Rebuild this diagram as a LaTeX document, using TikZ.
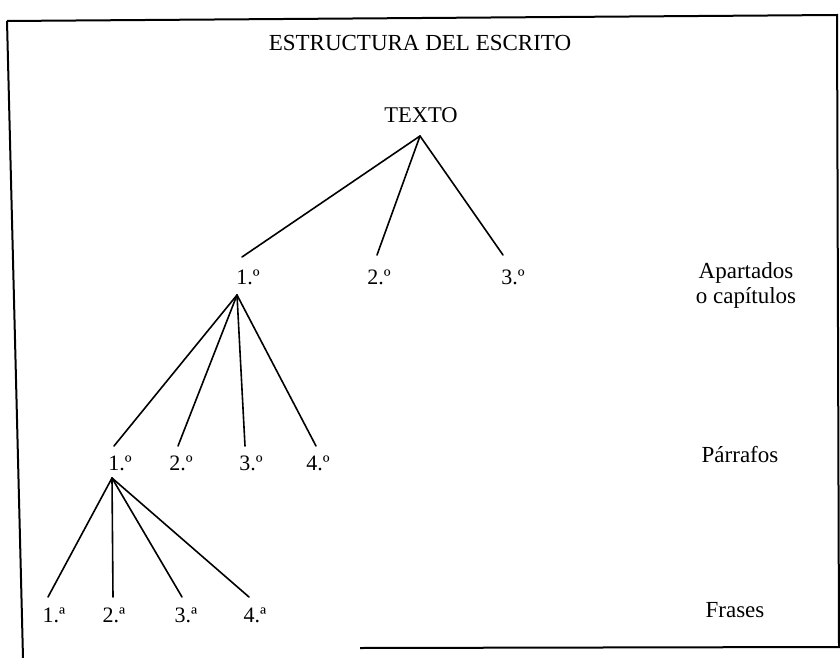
\documentclass[tikz,border=0pt]{standalone}
\usepackage{fontspec}
\setmainfont{Liberation Serif}
\begin{document}
\begin{tikzpicture}[x=1pt,y=-1pt,
  lbl/.style={inner sep=0pt, font=\fontsize{22}{24}\selectfont},
  side/.style={inner sep=0pt, font=\fontsize{23}{25}\selectfont, align=center},
  head/.style={inner sep=0pt, font=\fontsize{23}{25}\selectfont},
  edge/.style={line width=1.6pt, line cap=round},
  frame/.style={line width=2pt}]
\useasboundingbox (0,0) rectangle (840,658);
% frame
\draw[frame] (7,21) -- (837,15) -- (839,647) -- (360,648);
\draw[frame] (7,21) -- (23,658);
% title and root
\node[head] (title) at (420,43) {ESTRUCTURA DEL ESCRITO};
\node[head, font=\fontsize{22.5}{24}\selectfont] (texto) at (421,115) {TEXTO};
% level 1
\node[lbl] (a1) at (248,277) {1.º};
\node[lbl] (a2) at (379,277) {2.º};
\node[lbl] (a3) at (513,277) {3.º};
% level 2
\node[lbl] (p1) at (120,463) {1.º};
\node[lbl] (p2) at (181,463) {2.º};
\node[lbl] (p3) at (251,463) {3.º};
\node[lbl] (p4) at (318,463) {4.º};
% level 3
\node[lbl] (f1) at (54,615) {1.ª};
\node[lbl] (f2) at (114,615) {2.ª};
\node[lbl] (f3) at (186,615) {3.ª};
\node[lbl] (f4) at (255,615) {4.ª};
% side labels
\node[side] (apart) at (746,285) {Apartados\\o capítulos};
\node[side] (parr) at (740,455) {Párrafos};
\node[side] (fras) at (735,610) {Frases};
% connector end points
\coordinate (tB) at (420,136);
\coordinate (a1T) at (242,257);
\coordinate (a2T) at (377,255);
\coordinate (a3T) at (503,255);
\coordinate (a1B) at (237,295);
\coordinate (p1T) at (114,446);
\coordinate (p2T) at (178,446);
\coordinate (p3T) at (245,446);
\coordinate (p4T) at (316,446);
\coordinate (p1B) at (112,478);
\coordinate (f1T) at (48,597);
\coordinate (f2T) at (113,597);
\coordinate (f3T) at (182,597);
\coordinate (f4T) at (249,597);
% connectors
\foreach \c in {a1T,a2T,a3T} \draw[edge] (tB) -- (\c);
\foreach \c in {p1T,p2T,p3T,p4T} \draw[edge] (a1B) -- (\c);
\foreach \c in {f1T,f2T,f3T,f4T} \draw[edge] (p1B) -- (\c);
\end{tikzpicture}
\end{document}
